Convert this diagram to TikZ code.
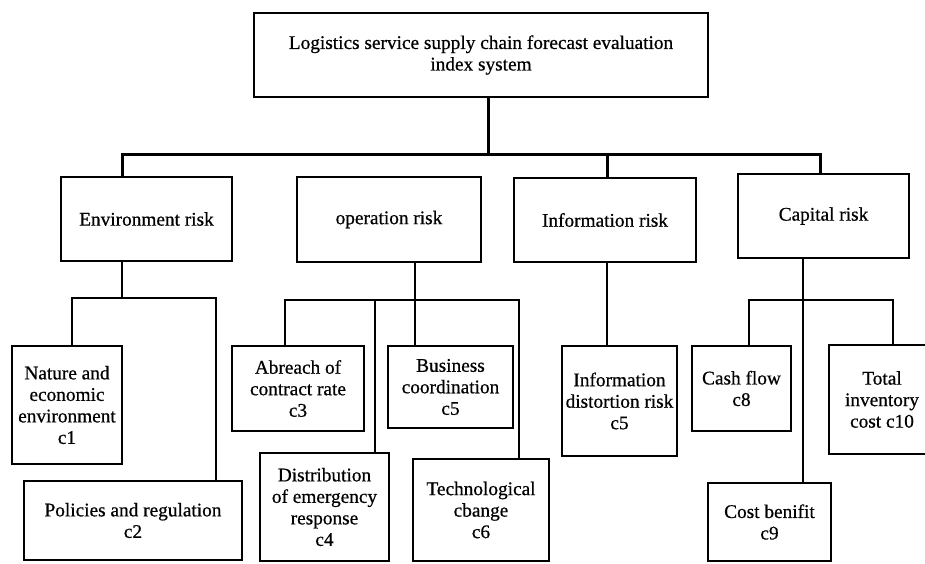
\documentclass[tikz,border=0pt]{standalone}
\usepackage{fontspec}
\setmainfont{Liberation Serif}[FakeBold=0.6]
\begin{document}
\begin{tikzpicture}[x=1pt, y=-1pt,
        box/.style={draw, line width=2.3pt, align=center, inner sep=0pt, font=\fontsize{19.3}{21.5}\selectfont},
        ln/.style={line width=2.3pt},
        bus/.style={line width=3pt}]
        \useasboundingbox (0,0) rectangle (925,563);

        % top level
        \node[box, line width=2.6pt, minimum width=454pt, minimum height=84pt] (root) at (481,55) {Logistics service supply chain forecast evaluation\\index system};

        % risk groups
        \node[box, minimum width=171pt, minimum height=84pt] (env) at (146.5,219) {Environment risk};
        \node[box, minimum width=184pt, minimum height=85pt] (op) at (389,219.5) {operation risk};
        \node[box, minimum width=182pt, minimum height=84pt] (info) at (605,220) {Information risk};
        \node[box, minimum width=171pt, minimum height=84pt] (cap) at (823.5,216) {Capital risk};

        % indexes
        \node[box, minimum width=110pt, minimum height=118pt] (c1) at (67,405) {Nature and\\economic\\environment\\c1};
        \node[box, minimum width=218pt, minimum height=79pt] (c2) at (133,520.5) {Policies and regulation\\c2};
        \node[box, minimum width=132pt, minimum height=85pt] (c3) at (298,388.5) {Abreach of\\contract rate\\c3};
        \node[box, minimum width=129pt, minimum height=108pt] (c4) at (324.5,507) {Distribution\\of emergency\\response\\c4};
        \node[box, minimum width=125pt, minimum height=82pt] (c5) at (450.5,387) {Business\\coordination\\c5};
        \node[box, minimum width=136pt, minimum height=102pt] (c6) at (481,510) {Technological\\cbange\\c6};
        \node[box, minimum width=115pt, minimum height=110pt] (ic5) at (619.5,401) {Information\\distortion risk\\c5};
        \node[box, minimum width=99pt, minimum height=85pt] (c8) at (741.5,388.5) {Cash flow\\c8};
        \node[box, minimum width=123pt, minimum height=78pt] (c9) at (769.5,522) {Cost benifit\\c9};
        \node[box, minimum width=106pt, minimum height=109pt] (c10) at (882,399.5) {Total\\inventory\\cost c10};

        % junctions
        \coordinate (mid) at (488,154);
        \coordinate (busL) at (122,154);
        \coordinate (busR) at (820,154);
        \coordinate (busI) at (607,154);
        \coordinate (envJ) at (122,298);
        \coordinate (envL) at (72,298);
        \coordinate (envR) at (216,298);
        \coordinate (opJ) at (415,300);
        \coordinate (opL) at (285,300);
        \coordinate (opD) at (375,300);
        \coordinate (opR) at (519,300);
        \coordinate (capJ) at (803,300);
        \coordinate (capL) at (749,300);
        \coordinate (capR) at (893,300);

        \draw[bus] (root.south -| mid) -- (mid);
        \draw[bus] (env.north -| busL) -- (busL) -- (busR) -- (cap.north -| busR);
        \draw[bus] (busI) -- (info.north -| busI);

        \draw[ln] (env.south -| envJ) -- (envJ);
        \draw[ln] (c1.north -| envL) -- (envL) -- (envR) -- (c2.north -| envR);

        \draw[ln] (op.south -| opJ) -- (c5.north -| opJ);
        \draw[ln] (c3.north -| opL) -- (opL) -- (opR) -- (c6.north -| opR);
        \draw[ln] (opD) -- (c4.north -| opD);

        \draw[ln] (info.south -| busI) -- (ic5.north -| busI);

        \draw[ln] (cap.south -| capJ) -- (c9.north -| capJ);
        \draw[ln] (c8.north -| capL) -- (capL) -- (capR) -- (c10.north -| capR);
    \end{tikzpicture}
\end{document}
